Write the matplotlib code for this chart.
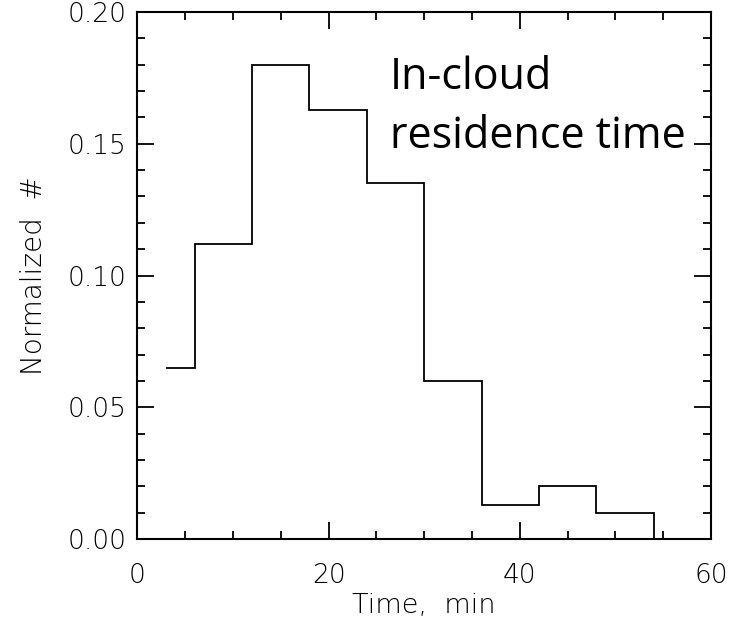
import matplotlib
matplotlib.use("Agg")
import matplotlib.pyplot as plt
from matplotlib.ticker import MultipleLocator

# bin edges (min) and normalized counts
bin_edges = [3, 6, 12, 18, 24, 30, 36, 42, 48, 54, 57]
norm_counts = [0.065, 0.112, 0.180, 0.163, 0.135, 0.060, 0.013, 0.020, 0.010, 0.0]

plt.rcParams['font.family'] = ['DejaVu Sans']
plt.rcParams['font.weight'] = 'light'
plt.rcParams['axes.labelweight'] = 'light'

fig = plt.figure(figsize=(7.31, 6.23), dpi=100)
ax = fig.add_axes([0.188, 0.1348, 0.7846, 0.8459])

ax.stairs(norm_counts, bin_edges, baseline=None, color="black", linewidth=1.3)

ax.set_xlim(0, 60)
ax.set_ylim(0, 0.20)
ax.xaxis.set_major_locator(MultipleLocator(20))
ax.xaxis.set_minor_locator(MultipleLocator(5))
ax.yaxis.set_major_locator(MultipleLocator(0.05))
ax.yaxis.set_minor_locator(MultipleLocator(0.01))
ax.yaxis.set_major_formatter(plt.FormatStrFormatter("%.2f"))

ax.tick_params(which="both", direction="in", top=True, right=True, width=1.3,
               labelsize=19, colors="black")
ax.tick_params(which="major", length=12)
ax.tick_params(which="minor", length=6)
ax.tick_params(axis="x", which="major", pad=17)
ax.tick_params(axis="y", which="major", pad=8)
for sp in ax.spines.values():
    sp.set_linewidth(1.5)

ax.set_xlabel("Time,  min", fontsize=19.5, labelpad=4)
ax.set_ylabel("Normalized  #", fontsize=20, labelpad=14)

ax.text(0.44, 0.918, "In-cloud\nresidence time", transform=ax.transAxes,
        fontsize=31, family="Open Sans", weight="normal",
        va="top", ha="left", linespacing=1.45)

fig.savefig("out.png", dpi=100)
